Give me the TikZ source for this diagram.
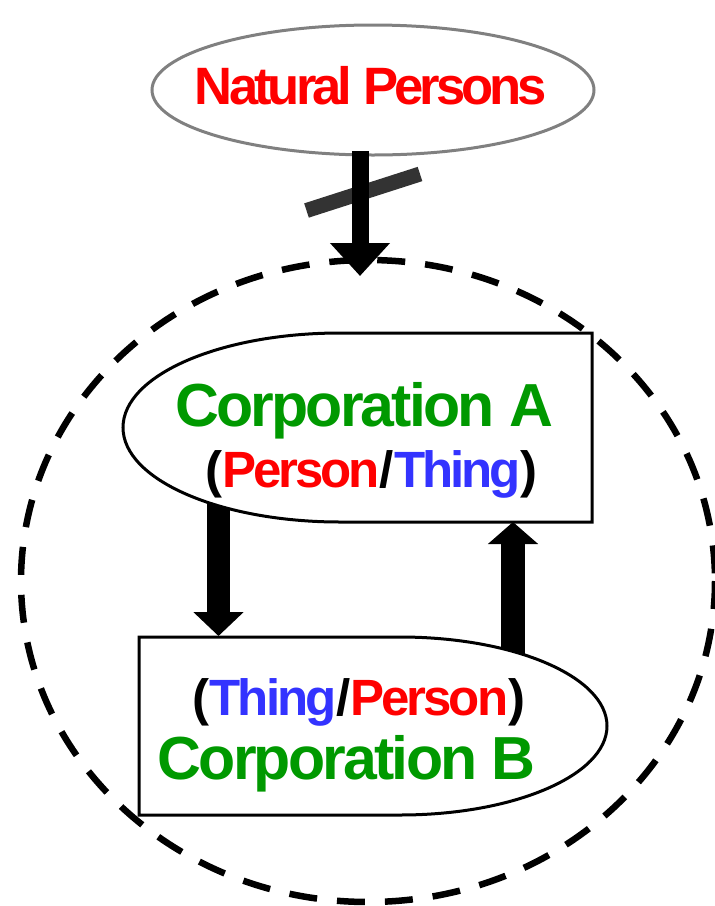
\documentclass[tikz,border=0pt]{standalone}
\usepackage{fontspec}
\setmainfont{Liberation Sans}
\usetikzlibrary{arrows.meta,shapes.geometric}

\definecolor{corpgreen}{RGB}{0,153,0}
\definecolor{persred}{RGB}{255,0,0}
\definecolor{thingblue}{RGB}{51,51,255}
\definecolor{ringgray}{RGB}{128,128,128}
\definecolor{bargray}{RGB}{51,51,51}

% bold label: size, letter spacing, text
\newcommand{\boldlabel}[3]{{\fontsize{#1}{#1}\selectfont\bfseries\addfontfeature{LetterSpace=#2}#3}}

\begin{document}
\begin{tikzpicture}[x=1pt, y=-1pt,
  blockarrow/.style n args={3}{line width=#1, draw=black,
    -{Triangle[width=#2 0 0, length=#3 0 0]}},
  corpshape/.style={draw=black, line width=3pt, fill=white, line join=miter},
  dashring/.style={draw=black, line width=6.5pt, dash pattern=on 28pt off 20pt},
  npring/.style={draw=ringgray, line width=3pt, ellipse, fill=white,
    minimum width=442pt, minimum height=130pt, inner sep=0pt},
  txt/.style={anchor=base, inner sep=0pt},
]
\useasboundingbox (0,0) rectangle (715,906);

% outer population of natural persons
\node[npring] (npring) at (373,90) {};
\node[txt, text=persred] (np) at (371,104) {\boldlabel{52.6}{-7.5}{Natural Persons}};

% arrow endpoints
\coordinate (topS) at (360,151);
\coordinate (topE) at (360,276);
\coordinate (downS) at (218.5,500);
\coordinate (downE) at (218.5,636);
\coordinate (upS) at (513,656);
\coordinate (upE) at (513,522);
\coordinate (barL) at (306.5,210.5);
\coordinate (barR) at (420,174);

% crossed-out arrow into the ring
\draw[bargray, line width=15pt] (barL) -- (barR);
\draw[blockarrow={17pt}{58pt}{33pt}] (topS) -- (topE);

% arrows between the two corporations
\draw[blockarrow={23pt}{49pt}{24pt}] (downS) -- (downE);
\draw[blockarrow={24pt}{49pt}{22pt}] (upS) -- (upE);

% Corporation A: half ellipse on the left, box on the right
\draw[corpshape] (592,333) -- (340,333)
  arc[start angle=270, end angle=90, x radius=217, y radius=94.5]
  -- (592,522) -- cycle;

% Corporation B: box on the left, half ellipse on the right
\draw[corpshape] (139,637) -- (400,637)
  arc[start angle=270, end angle=450, x radius=207, y radius=89]
  -- (139,815) -- cycle;

% the dashed boundary
\draw[dashring] (368,581) ellipse[x radius=347, y radius=321];

% labels
\node[txt, text=corpgreen] (corpA) at (364,426) {\boldlabel{60.8}{-4.6}{Corporation A}};
\node[txt] (roleA) at (371.5,487) {\boldlabel{51}{-6}{(\textcolor{persred}{Person}/\textcolor{thingblue}{Thing})}};
\node[txt] (roleB) at (359,715) {\boldlabel{51}{-6}{(\textcolor{thingblue}{Thing}/\textcolor{persred}{Person})}};
\node[txt, text=corpgreen] (corpB) at (346.5,779) {\boldlabel{60.8}{-4.6}{Corporation B}};
\end{tikzpicture}
\end{document}
